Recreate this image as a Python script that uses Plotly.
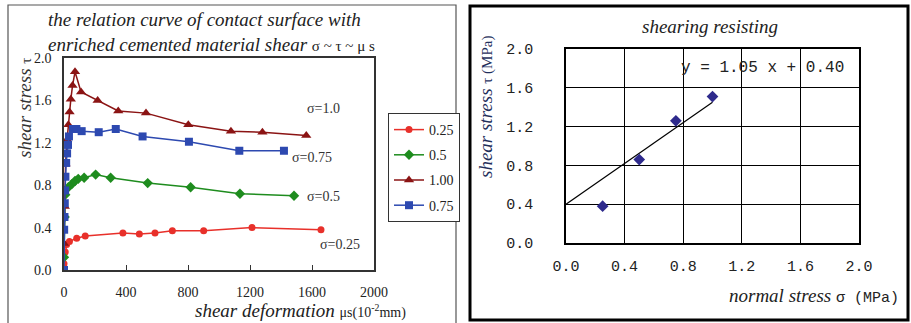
import plotly.graph_objects as go

W, H = 911, 323

# ---------------- Left chart data ----------------
s025_x = [0, 8, 17, 35, 82, 137, 380, 486, 587, 699, 901, 1213, 1658]
s025_y = [0.06, 0.17, 0.24, 0.27, 0.30, 0.32, 0.35, 0.34, 0.35, 0.37, 0.37, 0.40, 0.38]

s05_x = [0, 4, 8, 28, 50, 71, 92, 130, 204, 301, 540, 817, 1135, 1484]
s05_y = [0.12, 0.50, 0.71, 0.78, 0.81, 0.84, 0.86, 0.87, 0.90, 0.87, 0.82, 0.78, 0.72, 0.70]

s100_x = [0, 5, 10, 20, 28, 36, 44, 55, 71, 110, 217, 350, 529, 802, 1077, 1280, 1563]
s100_y = [0.25, 0.60, 1.00, 1.23, 1.37, 1.49, 1.61, 1.74, 1.87, 1.68, 1.60, 1.50, 1.48, 1.37, 1.31, 1.30, 1.27]

s075_x = [0, 1, 3, 5, 7, 9, 14, 20, 26, 32, 58, 80, 114, 224, 334, 507, 806, 1131, 1419]
s075_y = [0.00, 0.38, 0.50, 0.63, 0.75, 0.88, 1.01, 1.10, 1.18, 1.26, 1.33, 1.33, 1.31, 1.30, 1.33, 1.26, 1.21, 1.125, 1.125]

left_series = [
    ("0.25", s025_x, s025_y, "#E8302A", "circle", 7),
    ("0.5", s05_x, s05_y, "#1E8C1E", "diamond", 8),
    ("1.00", s100_x, s100_y, "#8B1414", "triangle-up", 9),
    ("0.75", s075_x, s075_y, "#2D49B0", "square", 8),
]
sigma_labels = ["σ=1.0", "σ=0.75", "σ=0.5", "σ=0.25"]
sigma_lab_x = [1677, 1600, 1677, 1781]
sigma_lab_y = [1.528, 1.057, 0.698, 0.236]

left_xticks = [0, 400, 800, 1200, 1600, 2000]
left_yticks = [0.0, 0.4, 0.8, 1.2, 1.6, 2.0]

# ---------------- Right chart data ----------------
normal_stress = [0.25, 0.50, 0.75, 1.00]
shear_resist = [0.38, 0.86, 1.26, 1.51]
SLOPE, INTERCEPT = 1.05, 0.40
fit_x = [0.0, 1.0]
right_ticks = [0.0, 0.4, 0.8, 1.2, 1.6, 2.0]

SERIF = "Liberation Serif"
MONO = "Liberation Mono"

def px_x(p):
    return p / W

def px_y(p):
    return 1 - p / H

fig = go.Figure()

for i, (name, xs, ys, col, sym, sz) in enumerate(left_series):
    fig.add_trace(go.Scatter(
        x=xs, y=ys, mode="lines+markers", name=name,
        line=dict(color=col, width=1.5),
        marker=dict(symbol=sym, size=sz, color=col),
        xaxis="x", yaxis="y", legendgroup=f"g{i}",
    ))

fig.add_trace(go.Scatter(
    x=fit_x, y=[SLOPE * v + INTERCEPT for v in fit_x], mode="lines",
    line=dict(color="black", width=1.2), showlegend=False,
    xaxis="x2", yaxis="y2",
))
fig.add_trace(go.Scatter(
    x=normal_stress, y=shear_resist, mode="markers",
    marker=dict(symbol="diamond", size=9, color="#2E2A8C"),
    showlegend=False, xaxis="x2", yaxis="y2",
))

annotations = []
for t, ax_, ay_ in zip(sigma_labels, sigma_lab_x, sigma_lab_y):
    annotations.append(dict(text=t, x=ax_, y=ay_, xref="x", yref="y",
                            xanchor="center", yanchor="middle",
                            showarrow=False, font=dict(family=SERIF, size=14, color="#333")))

# Left titles
annotations.append(dict(
    text="<i>the relation curve of contact surface with</i><br>"
         "<i>enriched cemented material shear</i> <span style='font-size:15px'>σ ~ τ ~ μ s</span>",
    x=px_x(46), y=px_y(7), xref="paper", yref="paper", xanchor="left", yanchor="top",
    align="left", showarrow=False, font=dict(family=SERIF, size=19, color="#222")))
annotations.append(dict(
    text="<i>shear stress</i> <span style='font-size:15px'>τ</span>",
    x=px_x(25), y=px_y(108), xref="paper", yref="paper", textangle=-90,
    xanchor="center", yanchor="middle",
    showarrow=False, font=dict(family=SERIF, size=19, color="#333")))
annotations.append(dict(
    text="<i>shear deformation</i> <span style='font-size:14px'>μs(10<sup>-2</sup>mm)</span>",
    x=px_x(300), y=px_y(310), xref="paper", yref="paper",
    xanchor="center", yanchor="middle",
    showarrow=False, font=dict(family=SERIF, size=19, color="#222")))

# Right titles
annotations.append(dict(
    text="<i>shearing resisting</i>", x=px_x(710), y=px_y(27), xref="paper", yref="paper",
    xanchor="center", yanchor="middle",
    showarrow=False, font=dict(family=SERIF, size=19, color="#222")))
annotations.append(dict(
    text=f"y = {SLOPE:.2f} x + {INTERCEPT:.2f}", x=1.34, y=1.80, xref="x2", yref="y2",
    xanchor="center", yanchor="middle",
    showarrow=False, font=dict(family=MONO, size=16, color="#222")))
annotations.append(dict(
    text="<i>normal stress</i> <span style=\"font-family:'Liberation Mono';font-size:15px\">σ (MPa)</span>",
    x=px_x(901), y=px_y(296), xref="paper", yref="paper", xanchor="right", yanchor="middle",
    showarrow=False, font=dict(family=SERIF, size=19, color="#222")))
annotations.append(dict(
    text="<i>shear stress</i> <span style='font-size:15px'>τ (MPa)</span>",
    x=px_x(485), y=px_y(107), xref="paper", yref="paper", textangle=-90,
    xanchor="center", yanchor="middle",
    showarrow=False, font=dict(family=SERIF, size=19, color="#1F2F5C")))

shapes = [
    dict(type="rect", xref="paper", yref="paper", x0=px_x(8), x1=px_x(456), y0=px_y(335), y1=px_y(5),
         line=dict(color="#555", width=1.2)),
    dict(type="rect", xref="paper", yref="paper", x0=px_x(470), x1=px_x(908), y0=px_y(320), y1=px_y(6),
         line=dict(color="black", width=3)),
]

fig.update_layout(
    width=W, height=H, margin=dict(l=0, r=0, t=0, b=0, autoexpand=False),
    paper_bgcolor="white", plot_bgcolor="white",
    showlegend=True,
    legend=dict(x=px_x(388), y=px_y(113), xanchor="left", yanchor="top",
                bordercolor="#333", borderwidth=1, bgcolor="white",
                font=dict(family=SERIF, size=14, color="#222"),
                tracegroupgap=4, itemwidth=30),
    xaxis=dict(domain=[px_x(64), px_x(374)], range=[0, 2000], tickvals=left_xticks,
               showline=True, linecolor="#333", linewidth=1.5, mirror=True,
               ticks="inside", ticklen=5, tickcolor="#333", showgrid=False, zeroline=False,
               ticklabelstandoff=8, tickfont=dict(family=SERIF, size=14, color="#222"),
               anchor="y", automargin=False),
    yaxis=dict(domain=[px_y(270), px_y(58)], range=[0, 2.0], tickvals=left_yticks,
               tickformat=".1f", showline=True, linecolor="#333", linewidth=1.5, mirror=True,
               ticks="", showgrid=False, zeroline=False, ticklabelstandoff=8,
               tickfont=dict(family=SERIF, size=14, color="#222"), anchor="x", automargin=False),
    xaxis2=dict(domain=[px_x(566), px_x(859)], range=[0, 2.0], tickvals=right_ticks,
                tickformat=".1f", showline=True, linecolor="black", linewidth=1.5, mirror=True,
                showgrid=True, gridcolor="black", gridwidth=1.2, zeroline=False, ticks="",
                ticklabelstandoff=8, tickfont=dict(family=MONO, size=15, color="#222"),
                anchor="y2", automargin=False),
    yaxis2=dict(domain=[px_y(243), px_y(49)], range=[0, 2.0], tickvals=right_ticks,
                tickformat=".1f", showline=True, linecolor="black", linewidth=1.5, mirror=True,
                showgrid=True, gridcolor="black", gridwidth=1.2, zeroline=False, ticks="",
                ticklabelstandoff=28, tickfont=dict(family=MONO, size=15, color="#222"),
                anchor="x2", automargin=False),
    annotations=annotations, shapes=shapes,
)

fig.write_html("out.html")
